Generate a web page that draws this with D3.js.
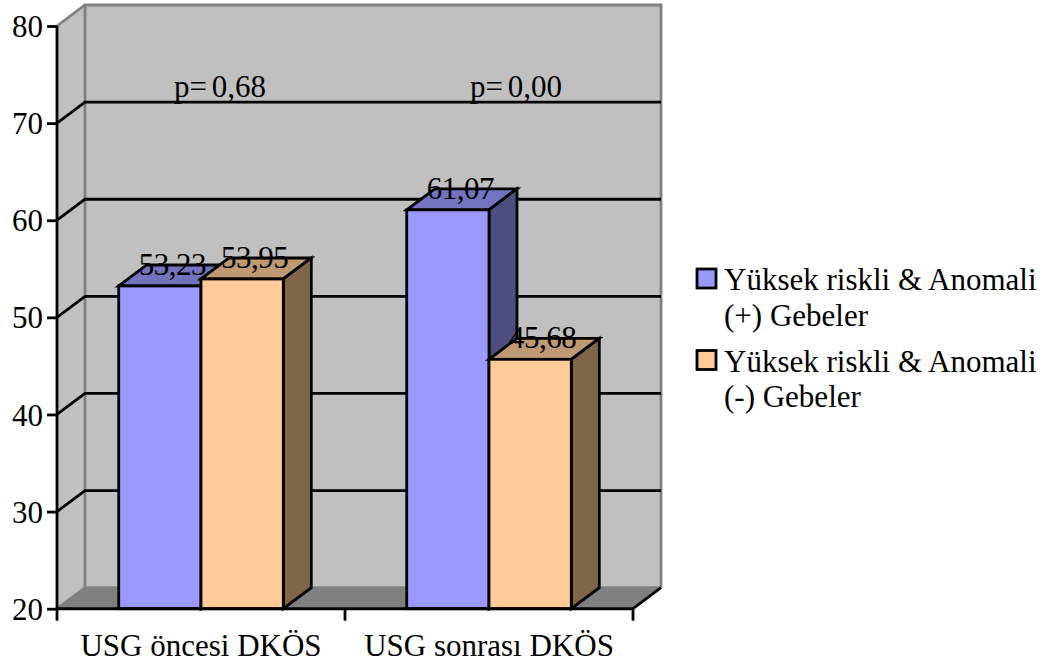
<!DOCTYPE html>
<html>
<head>
<meta charset="utf-8">
<script src="https://cdn.jsdelivr.net/npm/d3@7/dist/d3.min.js"></script>
<style>
html,body{margin:0;padding:0;background:#fff}
svg{display:block}
text{font-family:"Liberation Serif",serif;fill:#000;font-size:31px}
.value-label{letter-spacing:-0.5px}
.p-label{word-spacing:-3px}
</style>
</head>
<body>
<svg id="chart" width="1054" height="668"></svg>
<script>
// Mean DKÖS scores before and after ultrasound, by pregnancy group
const categories = ["USG öncesi DKÖS", "USG sonrası DKÖS"];
const seriesNames = ["Yüksek riskli & Anomali (+) Gebeler", "Yüksek riskli & Anomali (-) Gebeler"];
const legendLines = [["Yüksek riskli & Anomali", "(+) Gebeler"], ["Yüksek riskli & Anomali", "(-) Gebeler"]];
const positiveGroup = [53.23, 61.07];
const negativeGroup = [53.95, 45.68];
const pValues = [0.68, 0.00];
const yTicks = [20, 30, 40, 50, 60, 70, 80];
const frontColors = ["#9999ff", "#ffcc99"];
const topColors = ["#7373bf", "#bf9973"];
const sideColors = ["#4d4d80", "#806648"];

const svg = d3.select("#chart");
const decimalComma = d3.format(".2f");
const fmt = v => decimalComma(v).replace(".", ",");

// Plot frame of the front plane, plus the oblique offset to the back wall
const plotLeft = 57, plotRight = 633, plotTop = 26, plotBottom = 608.7;
const depthX = 28, depthY = -21;
const lineWidth = 2.8;

const y = d3.scaleLinear().domain([20, 80]).range([plotBottom, plotTop]);
const x = d3.scaleBand().domain(categories).range([plotLeft, plotRight]);
const seriesBand = d3.scaleBand().domain([0, 1]).range([0, x.bandwidth()]).paddingOuter(0.75).paddingInner(0);

const poly = pts => pts.map(p => p.join(",")).join(" ");

// Back wall, side wall and floor
svg.append("polygon")
  .attr("points", poly([[plotLeft, y(80)], [plotLeft + depthX, y(80) + depthY], [plotRight + depthX, y(80) + depthY], [plotRight + depthX, y(20) + depthY], [plotLeft + depthX, y(20) + depthY], [plotLeft, y(20)]]))
  .attr("fill", "#c0c0c0");
svg.append("polygon")
  .attr("points", poly([[plotLeft, y(20)], [plotLeft + depthX, y(20) + depthY], [plotRight + depthX, y(20) + depthY], [plotRight, y(20)]]))
  .attr("fill", "#808080");
svg.append("path")
  .attr("d", `M${plotLeft},${y(80)}L${plotLeft + depthX},${y(80) + depthY}H${plotRight + depthX}V${y(20) + depthY}M${plotLeft + depthX},${y(80) + depthY}V${y(20) + depthY}H${plotRight + depthX}M${plotLeft + depthX},${y(20) + depthY}L${plotLeft},${y(20)}`)
  .attr("fill", "none").attr("stroke", "#808080").attr("stroke-width", lineWidth);
svg.append("path")
  .attr("d", `M${plotRight + depthX},${y(20) + depthY}L${plotRight},${y(20)}`)
  .attr("fill", "none").attr("stroke", "#000").attr("stroke-width", lineWidth);

// Gridlines wrap from the axis across the side wall to the back wall
svg.append("g").selectAll("path")
  .data(yTicks.filter(t => t > 20 && t < 80))
  .join("path")
  .attr("d", t => `M${plotLeft},${y(t)}L${plotLeft + depthX},${y(t) + depthY}H${plotRight + depthX}`)
  .attr("fill", "none").attr("stroke", "#000").attr("stroke-width", lineWidth);

// p values sit over the back wall, just above the 70 gridline
svg.append("g").selectAll("text")
  .data(categories)
  .join("text")
  .attr("class", "p-label")
  .attr("x", (c, i) => x(c) + x.bandwidth() / 2 + (i === 0 ? 19 : 27))
  .attr("y", y(70) + depthY - 5)
  .attr("text-anchor", "middle")
  .text((c, i) => "p= " + fmt(pValues[i]));

// Extruded bars: each group draws series one then series two, so the nearer box overlaps
const barRows = categories.flatMap((c, i) => [
  { cat: c, s: 0, value: positiveGroup[i] },
  { cat: c, s: 1, value: negativeGroup[i] }
]);
const bars = svg.append("g").selectAll("g").data(barRows).join("g")
  .attr("stroke", "#000").attr("stroke-width", lineWidth).attr("stroke-linejoin", "miter");
const bx0 = d => x(d.cat) + seriesBand(d.s);
const bx1 = d => bx0(d) + seriesBand.bandwidth();
bars.append("polygon")
  .attr("points", d => poly([[bx0(d), y(d.value)], [bx0(d) + depthX, y(d.value) + depthY], [bx1(d) + depthX, y(d.value) + depthY], [bx1(d), y(d.value)]]))
  .attr("fill", d => topColors[d.s]);
bars.append("polygon")
  .attr("points", d => poly([[bx1(d), y(d.value)], [bx1(d) + depthX, y(d.value) + depthY], [bx1(d) + depthX, y(20) + depthY], [bx1(d), y(20)]]))
  .attr("fill", d => sideColors[d.s]);
bars.append("rect")
  .attr("x", bx0).attr("y", d => y(d.value))
  .attr("width", seriesBand.bandwidth())
  .attr("height", d => y(20) - y(d.value))
  .attr("fill", d => frontColors[d.s]);

// Value labels straddle the top face of each box
svg.append("g").selectAll("text").data(barRows).join("text")
  .attr("class", "value-label")
  .attr("x", d => bx0(d) + seriesBand.bandwidth() / 2 + depthX / 2 - 1.5)
  .attr("y", d => y(d.value) - 11)
  .attr("text-anchor", "middle")
  .text(d => fmt(d.value));

// Value axis
const yAxis = d3.axisLeft(y).tickValues(yTicks).tickSize(10).tickPadding(4).tickFormat(d3.format("d"));
const yG = svg.append("g").attr("transform", `translate(${plotLeft},0)`).call(yAxis);
yG.attr("font-size", null).attr("font-family", null);
yG.select(".domain").attr("stroke", "#000").attr("stroke-width", lineWidth).attr("d", `M0,${plotTop}V${plotBottom}`);
yG.selectAll(".tick line").attr("stroke", "#000").attr("stroke-width", lineWidth);
yG.selectAll(".tick text").attr("dy", "0.34em");

// Category axis with ticks on the band edges
const xAxis = d3.axisBottom(x).tickSize(0).tickPadding(25);
const xG = svg.append("g").attr("transform", `translate(0,${plotBottom})`).call(xAxis);
xG.attr("font-size", null).attr("font-family", null);
xG.select(".domain").attr("stroke", "#000").attr("stroke-width", 3).attr("d", `M${plotLeft},0H${plotRight}`);
xG.selectAll(".tick text").attr("dy", "0.71em");
xG.selectAll(".edge").data([plotLeft, plotLeft + x.bandwidth(), plotRight]).join("line")
  .attr("class", "edge")
  .attr("x1", d => d).attr("x2", d => d).attr("y1", 0).attr("y2", 12)
  .attr("stroke", "#000").attr("stroke-width", lineWidth);

// Legend, two wrapped lines per series
const legend = svg.append("g").selectAll("g").data(seriesNames).join("g")
  .attr("transform", (d, i) => `translate(696,${269 + i * 81.5})`);
legend.append("rect").attr("x", 1).attr("y", 0).attr("width", 19).attr("height", 19)
  .attr("fill", (d, i) => frontColors[i]).attr("stroke", "#000").attr("stroke-width", lineWidth);
legend.each(function (d, i) {
  d3.select(this).selectAll("text").data(legendLines[i]).join("text")
    .attr("x", 28).attr("y", (l, j) => 21 + j * 35.5).text(l => l);
});
</script>
</body>
</html>
